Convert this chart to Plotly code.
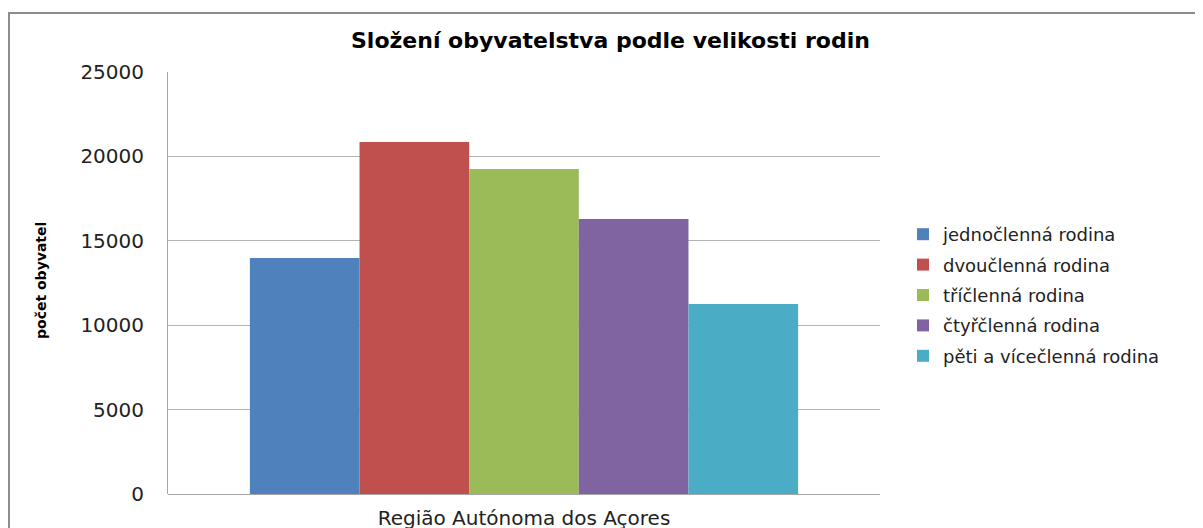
import plotly.graph_objects as go

# ======= Složení obyvatelstva podle velikosti rodin ============

region = ["Região Autónoma dos Açores"]
series_names = ["jednočlenná rodina", "dvoučlenná rodina", "tříčlenná rodina",
                "čtyřčlenná rodina", "pěti a vícečlenná rodina"]
series_values = [13980, 20850, 19250, 16290, 11260]
series_colors = ["#4F81BD", "#C0504D", "#9BBB59", "#8064A2", "#4BACC6"]
y_ticks = [0, 5000, 10000, 15000, 20000, 25000]

W, H = 1203, 528
OFF = 8                      # page body margin
L, R, T, B = 168, 880, 72, 494   # plot area in screen pixels
font_main = "DejaVu Sans"

fig = go.Figure()
for i, (name, val, col) in enumerate(zip(series_names, series_values, series_colors)):
    fig.add_trace(go.Bar(
        x=region, y=[val], name=name,
        marker=dict(color=col, line=dict(width=0)),
        legendgroup=str(i),
    ))

pw, ph = R - L, B - T
px2x = lambda p: (p - L) / pw
px2y = lambda p: (B - p) / ph

fig.update_layout(
    width=W, height=H,
    margin=dict(l=L - OFF, r=W - R + OFF, t=T - OFF, b=H - B + OFF),
    paper_bgcolor="white", plot_bgcolor="white",
    barmode="group", bargap=0.23, bargroupgap=0,
    font=dict(family=font_main, size=16, color="#222222"),
    showlegend=True,
    legend=dict(
        x=px2x(903), y=px2y(216), xanchor="left", yanchor="top",
        font=dict(family=font_main, size=18, color="#222222"),
        traceorder="grouped", tracegroupgap=4,
        itemwidth=30, bgcolor="rgba(0,0,0,0)",
    ),
    xaxis=dict(
        showline=False, showgrid=False, ticks="", ticklabelstandoff=10,
        automargin=False,
        tickfont=dict(family=font_main, size=20, color="#222222"),
    ),
    yaxis=dict(
        range=[0, 25000], tickvals=y_ticks, ticktext=[str(v) for v in y_ticks],
        showgrid=True, gridcolor="#b4b4b4", gridwidth=1,
        showline=True, linecolor="#a6a6a6", linewidth=1,
        zeroline=True, zerolinecolor="#a6a6a6", zerolinewidth=1,
        ticks="", ticklabelstandoff=19, automargin=False,
        tickfont=dict(family=font_main, size=20, color="#222222"),
    ),
)

# chart title
fig.add_annotation(
    text="<b>Složení obyvatelstva podle velikosti rodin</b>",
    xref="paper", yref="paper", x=px2x(610), y=px2y(41),
    xanchor="center", yanchor="middle", showarrow=False,
    font=dict(family=font_main, size=22, color="#000000"),
)

# y-axis title
fig.add_annotation(
    text="<b>počet obyvatel</b>",
    xref="paper", yref="paper", x=px2x(41), y=px2y(281),
    xanchor="center", yanchor="middle", showarrow=False, textangle=-90,
    font=dict(family=font_main, size=14, color="#000000"),
)

# chart frame (partly cropped, like the reference)
fig.add_shape(
    type="rect", xref="paper", yref="paper",
    x0=px2x(9), x1=px2x(1240), y0=px2y(570), y1=px2y(13),
    line=dict(color="#8c8c8c", width=2), fillcolor="rgba(0,0,0,0)", layer="below",
)

fig.write_html("out.html")
